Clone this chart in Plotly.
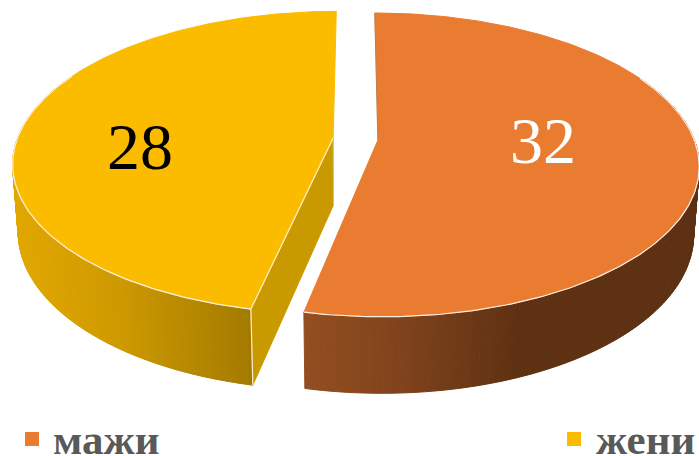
import numpy as np
import plotly.graph_objects as go

# Pie data
categories = ["мажи", "жени"]
values = [32, 28]

# Colours per slice: top face, radial wall, outer rim gradient as (x, colour) stops
top_colors = ["#EA7C32", "#FBBC00"]
wall_colors = [None, "#C99A00"]
rim_stops = [
    [(305, (146, 78, 32)), (400, (128, 67, 28)), (520, (94, 49, 19)), (700, (94, 49, 19))],
    [(10, (226, 168, 0)), (120, (205, 153, 0)), (250, (163, 122, 0))],
]
value_colors = ["#FFFFFF", "#000000"]
text_grey = "#595959"

# Perspective used for the disc: view centre, radii, tilt and thickness
X0, Y0 = 355.5, 139.0
RX, RY = 316.0, 147.5
TILT = 0.163
DEPTH = 68.0
SHRINK = 0.016
EXPLODE = 0.0712


def project(u, v, z=0.0):
    w = 1 - TILT * v + SHRINK * z
    return X0 + RX * u / w, Y0 + (RY * v + DEPTH * z) / w


def rim_color(x, stops):
    xs = [s[0] for s in stops]
    rgb = [np.interp(x, xs, [s[1][i] for s in stops]) for i in range(3)]
    return "rgb(%d,%d,%d)" % tuple(int(round(c)) for c in rgb)


def poly(fig, xs, ys, color):
    fig.add_trace(go.Scatter(
        x=list(xs), y=list(ys), mode="lines", fill="toself", fillcolor=color,
        line=dict(color=color, width=1), hoverinfo="skip", showlegend=False))


def stroke(fig, xs, ys, color, width=1.2, opacity=1.0):
    fig.add_trace(go.Scatter(
        x=list(xs), y=list(ys), mode="lines", opacity=opacity,
        line=dict(color=color, width=width), hoverinfo="skip", showlegend=False))


fig = go.Figure()

total = sum(values)
start = 0.0
slices = []
for val in values:
    sweep = 360.0 * val / total
    slices.append((start, start + sweep))
    start += sweep

tops = []
for i, (a0, a1) in enumerate(slices):
    mid = np.radians((a0 + a1) / 2)
    du, dv = EXPLODE * np.sin(mid), -EXPLODE * np.cos(mid)
    theta = np.radians(np.linspace(a0, a1, 240))
    u, v = np.sin(theta) + du, -np.cos(theta) + dv

    # Outer rim, drawn strip by strip so its shade follows x
    front = np.where(np.cos(theta) < 0.45)[0]
    for j0, j1 in zip(front[:-1], front[1:]):
        xt0, yt0 = project(u[j0], v[j0])
        xt1, yt1 = project(u[j1], v[j1])
        xb0, yb0 = project(u[j0], v[j0], 1)
        xb1, yb1 = project(u[j1], v[j1], 1)
        poly(fig, [xt0, xt1, xb1, xb0, xt0], [yt0, yt1, yb1, yb0, yt0],
             rim_color((xt0 + xt1) / 2, rim_stops[i]))

    # Radial wall facing the gap
    if wall_colors[i]:
        ax, ay = project(du, dv)
        bx, by = project(du, dv, 1)
        cx, cy = project(u[0], v[0])
        ex, ey = project(u[0], v[0], 1)
        poly(fig, [ax, cx, ex, bx, ax], [ay, cy, ey, by, ay], wall_colors[i])

    tops.append((du, dv, u, v, front))

for i, (du, dv, u, v, front) in enumerate(tops):
    ax, ay = project(du, dv)
    xs, ys = project(u, v)
    poly(fig, np.r_[ax, xs, ax], np.r_[ay, ys, ay], top_colors[i])

    # Pale edge where the top face meets the rim
    stroke(fig, xs[front], ys[front], "#FBEFE3")

    if i == 1:
        cx, cy = project(u[0], v[0])
        ex, ey = project(u[0], v[0], 1)
        stroke(fig, [ax, cx], [ay, cy], "#FBEFD0")
        stroke(fig, [cx, ex], [cy, ey], "#FBEFD0")
        bx, by = project(du, dv, 1)
        stroke(fig, [ax, bx], [ay, by], "#E8DFA8", width=1, opacity=0.6)
    else:
        # Sliver of the far wall at the start of the slice
        stroke(fig, [ax, xs[0]], [ay, ys[0]], "#8A7F78", width=1, opacity=0.45)

fig.add_annotation(x=543, y=140, text=str(values[0]), showarrow=False,
                   font=dict(family="Liberation Serif", size=66, color=value_colors[0]))
fig.add_annotation(x=140, y=146, text=str(values[1]), showarrow=False,
                   font=dict(family="Liberation Serif", size=66, color=value_colors[1]))

# Legend row along the bottom edge
legend_swatch_x = [32, 574]
legend_text_x = [51, 594]
for i, cat in enumerate(categories):
    fig.add_trace(go.Scatter(
        x=[legend_swatch_x[i]], y=[439], mode="markers",
        marker=dict(symbol="square", size=14, color=top_colors[i]),
        hoverinfo="skip", showlegend=False))
    fig.add_annotation(x=legend_text_x[i], y=439, text="<b>%s</b>" % cat, showarrow=False,
                       xanchor="left", yanchor="middle",
                       font=dict(family="Liberation Serif", size=43, color=text_grey))

fig.update_layout(
    width=699, height=456,
    margin=dict(l=0, r=0, t=0, b=0),
    paper_bgcolor="white", plot_bgcolor="white",
    xaxis=dict(range=[0, 699], visible=False, fixedrange=True),
    yaxis=dict(range=[456, 0], visible=False, fixedrange=True),
)

fig.write_html("out.html")
